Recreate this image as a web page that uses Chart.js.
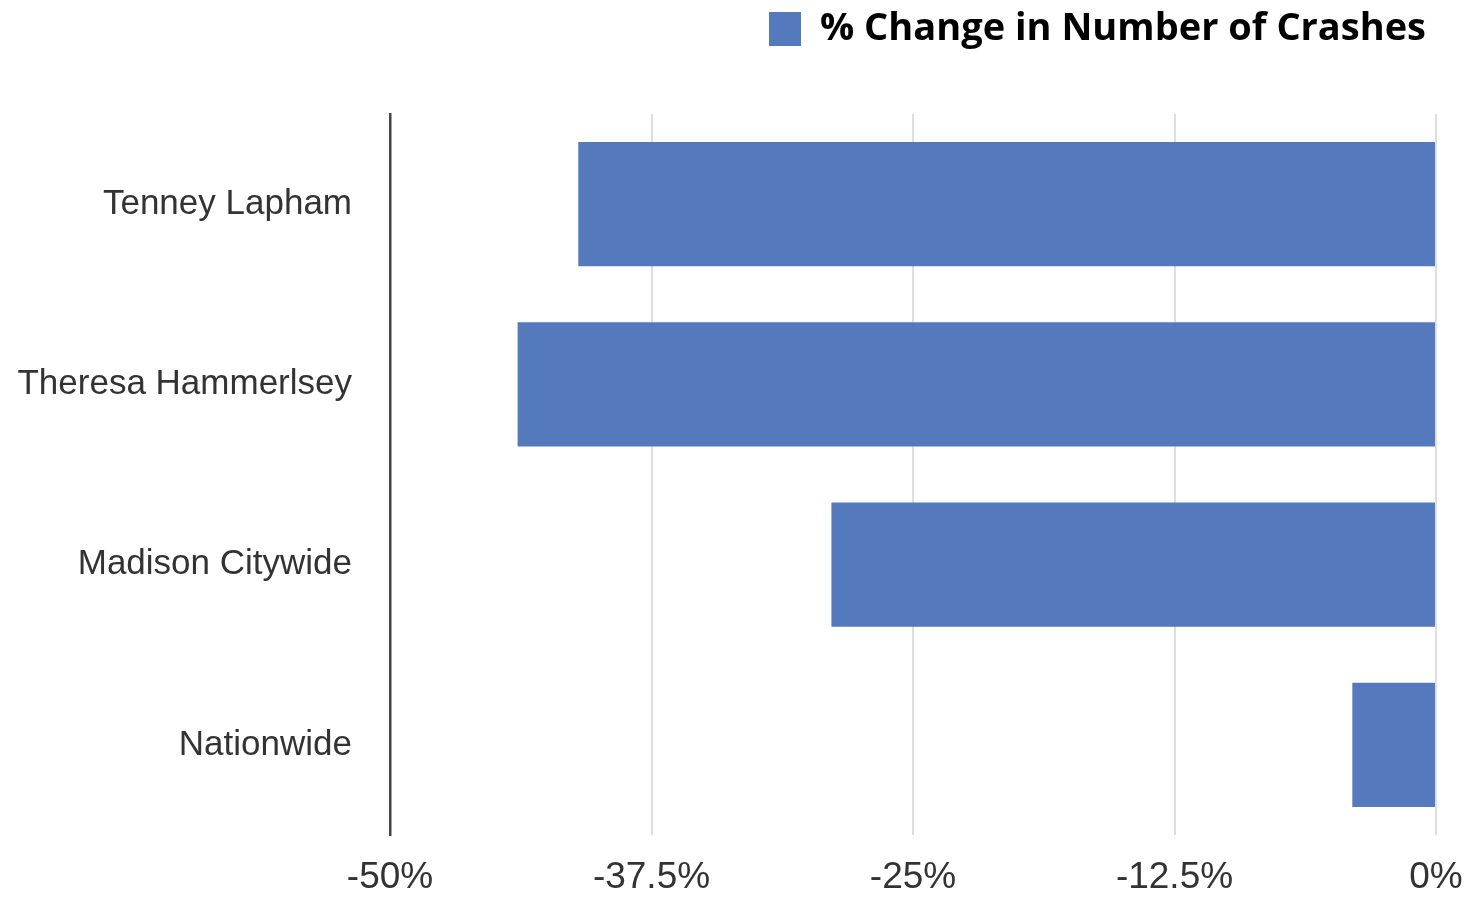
<!DOCTYPE html>
<html>
<head>
<meta charset="utf-8">
<script src="https://cdn.jsdelivr.net/npm/chart.js@4.4.1/dist/chart.umd.min.js"></script>
<style>
  html, body { margin: 0; padding: 0; background: #fff; }
  #wrap { width: 1465px; height: 900px; }
</style>
</head>
<body>
<div id="wrap"><canvas id="myChart"></canvas></div>
<script>
const categories = ['Tenney Lapham', 'Theresa Hammerlsey', 'Madison Citywide', 'Nationwide'];
const pctChange = [-41.0, -43.9, -28.9, -4.0];
const seriesLabel = '% Change in Number of Crashes';
const xTicks = [-50, -37.5, -25, -12.5, 0];

// extra room between the legend and the plot
const legendGap = {
  id: 'legendGap',
  beforeInit(chart) {
    const fit = chart.legend.fit;
    chart.legend.fit = function () {
      fit.bind(chart.legend)();
      this.height += 56;
    };
  }
};

const ctx = document.getElementById('myChart');

new Chart(ctx, {
  type: 'bar',
  data: {
    labels: categories,
    datasets: [{
      label: seriesLabel,
      data: pctChange,
      backgroundColor: '#5579bd',
      borderWidth: 0,
      categoryPercentage: 1,
      barPercentage: 0.69
    }]
  },
  plugins: [legendGap],
  options: {
    indexAxis: 'y',
    responsive: true,
    maintainAspectRatio: false,
    animation: false,
    layout: {
      padding: { left: 0, right: 29, top: 0, bottom: 0 }
    },
    plugins: {
      tooltip: { enabled: false },
      legend: {
        position: 'top',
        align: 'end',
        labels: {
          boxWidth: 32,
          boxHeight: 34,
          padding: 10,
          color: '#000',
          font: { family: '"Open Sans", sans-serif', size: 38, weight: 'bold' }
        }
      }
    },
    scales: {
      x: {
        min: -50,
        max: 0,
        afterBuildTicks: (scale) => {
          scale.ticks = xTicks.map(v => ({ value: v }));
        },
        afterFit: (scale) => {
          scale.height = 65;
          scale.paddingRight = 0;
        },
        ticks: {
          color: '#333',
          padding: 21,
          font: { family: '"Liberation Sans", Arial, sans-serif', size: 37 },
          callback: (v) => v + '%'
        },
        grid: {
          color: '#dedede',
          lineWidth: 2,
          drawTicks: false
        },
        border: { display: false }
      },
      y: {
        afterFit: (scale) => {
          scale.width = 390;
          scale.paddingBottom = 0;
          scale.paddingTop = 0;
        },
        ticks: {
          color: '#333',
          padding: 38,
          font: { family: '"Liberation Sans", Arial, sans-serif', size: 35 }
        },
        grid: { display: false, drawTicks: false },
        border: { display: true, color: '#444', width: 2.5 }
      }
    }
  }
});
</script>
</body>
</html>
